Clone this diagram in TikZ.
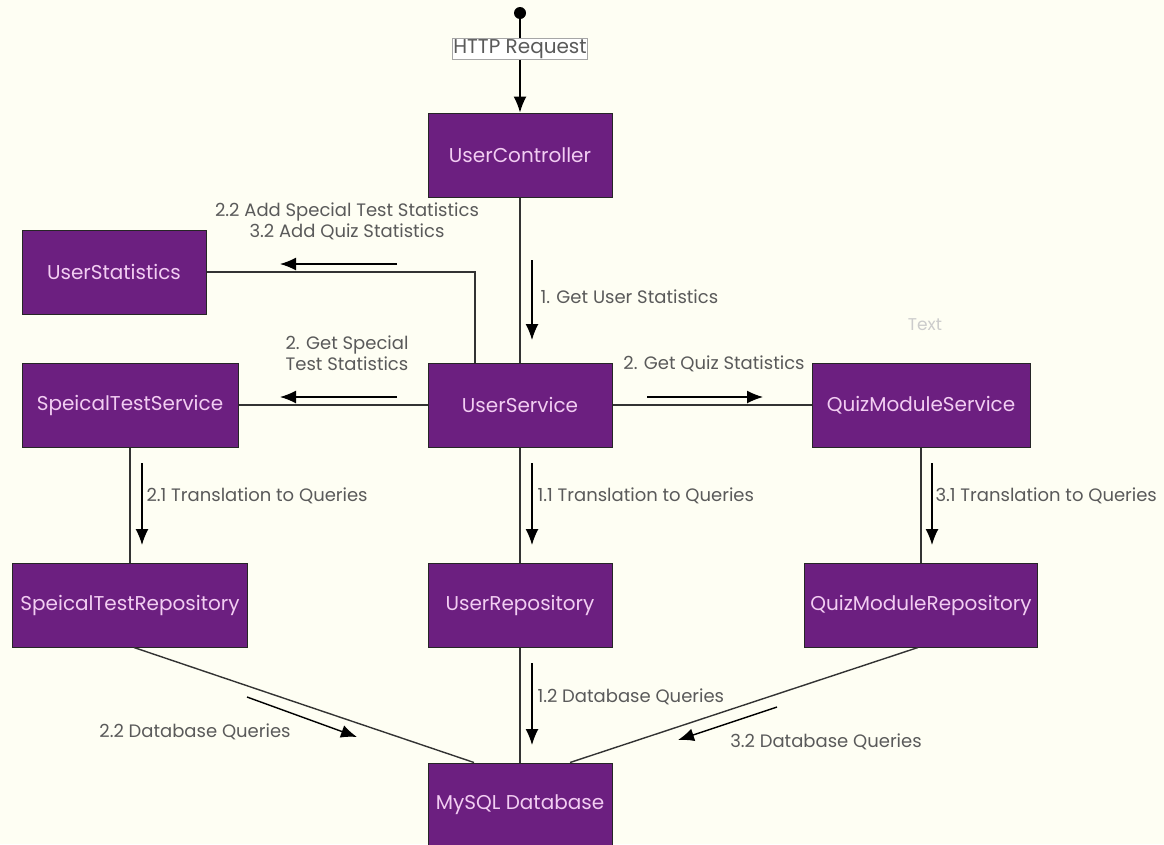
\documentclass[tikz,border=0pt]{standalone}
\usepackage{fontspec}
\setmainfont{Poppins}
\usetikzlibrary{arrows.meta, positioning, calc}

\definecolor{bgcream}{HTML}{FEFEF3}
\definecolor{boxpurple}{HTML}{6C1F80}
\definecolor{boxtext}{HTML}{F2CDF2}
\definecolor{labelgray}{HTML}{5A5A5A}

\tikzset{
  comp/.style={draw=black!85, line width=1, fill=boxpurple, text=boxtext,
    minimum width=184, minimum height=84, inner sep=0,
    font=\fontsize{20}{24}\selectfont},
  msg/.style={text=labelgray, align=center, font=\fontsize{18}{21}\selectfont},
  link/.style={draw=black!80, line width=1.4},
  flow/.style={draw=black, line width=1.4, -{Latex[length=16,width=13]}}
}

\begin{document}
\begin{tikzpicture}[x=1pt, y=-1pt]
    \fill[bgcream] (0,0) rectangle (1164,844);
    \useasboundingbox (0,0) rectangle (1164,844);

    % components
    \node[circle, fill=black, inner sep=0, minimum size=12] (start) at (520,13) {};
    \node[comp] (ctrl) at (520,155) {UserController};
    \node[comp] (stats) at (114,272) {UserStatistics};
    \node[comp, minimum width=216] (sts) at (130,405) {SpeicalTestService};
    \node[comp] (usrv) at (520,405) {UserService};
    \node[comp, minimum width=218] (qms) at (921,405) {QuizModuleService};
    \node[comp, minimum width=235] (str) at (130,605) {SpeicalTestRepository};
    \node[comp] (urep) at (520,605) {UserRepository};
    \node[comp, minimum width=233] (qmr) at (921,605) {QuizModuleRepository};
    \node[comp] (db) at (520,805) {MySQL Database};

    % links between components
    \draw[flow] (start) -- node[draw=black!35, fill=white, text=labelgray, inner sep=1,
      font=\fontsize{20}{22}\selectfont, pos=0.32] (req) {HTTP Request} (ctrl);
    \draw[link] (ctrl) -- (usrv);
    \draw[link] ([xshift=-45]usrv.north) |- (stats.east);
    \draw[link] (usrv) -- (sts);
    \draw[link] (usrv) -- (qms);
    \draw[link] (sts) -- (str);
    \draw[link] (usrv) -- (urep);
    \draw[link] (qms) -- (qmr);
    \draw[link] ([xshift=4]str.south) -- ([xshift=-46]db.north);
    \draw[link] (urep) -- (db);
    \draw[link] ([xshift=-3]qmr.south) -- ([xshift=50]db.north);

    % messages
    \draw[flow] (532,260) -- (532,340);
    \node[msg, anchor=west] (m1) at (537,297) {1. Get User Statistics};
    \draw[flow] (397,264) -- (280,264);
    \node[msg] (m22) at (347,221) {2.2 Add Special Test Statistics\\3.2 Add Quiz Statistics};
    \draw[flow] (397,397) -- (280,397);
    \node[msg] (m2) at (347,353) {2. Get Special\\Test Statistics};
    \draw[flow] (647,397) -- (763,397);
    \node[msg] (m3) at (714,364) {2. Get Quiz Statistics};
    \node[text=black!20, font=\fontsize{17}{19}\selectfont] (txt) at (925,325) {Text};

    \draw[flow] (142,463) -- (142,545);
    \node[msg, anchor=west] (m21) at (143,496) {2.1 Translation to Queries};
    \draw[flow] (532,463) -- (532,545);
    \node[msg, anchor=west] (m11) at (534,496) {1.1 Translation to Queries};
    \draw[flow] (932,463) -- (932,545);
    \node[msg, anchor=west] (m31) at (932,496) {3.1 Translation to Queries};

    \draw[flow] (247,697) -- (357,737);
    \node[msg] (m2db) at (195,732) {2.2 Database Queries};
    \draw[flow] (532,663) -- (532,745);
    \node[msg, anchor=west] (m1db) at (534,697) {1.2 Database Queries};
    \draw[flow] (777,707) -- (678,740);
    \node[msg] (m3db) at (826,742) {3.2 Database Queries};
\end{tikzpicture}
\end{document}
